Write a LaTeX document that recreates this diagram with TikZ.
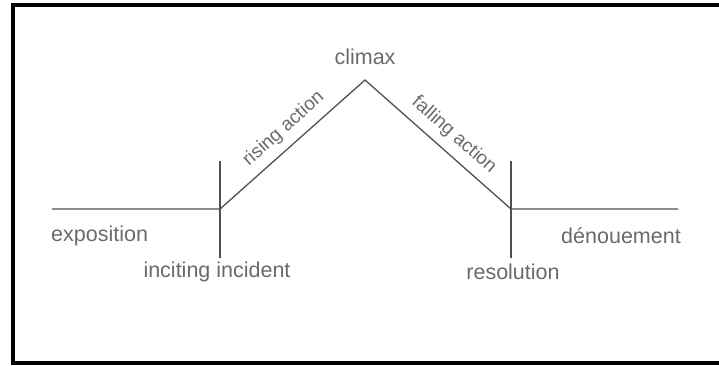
\documentclass[tikz,border=0pt]{standalone}
\usepackage{fontspec}
\setmainfont{Liberation Sans}
\usepackage{tikz}
\usetikzlibrary{positioning,calc}
\definecolor{plotline}{HTML}{505050}
\definecolor{plottext}{HTML}{6A6A6A}
\tikzset{
    arc/.style={draw=plotline, line width=1.3pt},
    lbl/.style={text=plottext, font=\fontsize{21.5}{24}\selectfont, inner sep=2pt},
    slopelbl/.style={text=plottext, font=\fontsize{19}{22}\selectfont, inner sep=2pt, sloped, above=6pt}
}
\begin{document}
\begin{tikzpicture}[x=1pt, y=-1pt]
    \clip (0,0) rectangle (719,365);
    % Frame
    \draw[line width=4pt] (13,5) rectangle (730,363);

    % Key points of the plot
    \coordinate (expo) at (52,209);
    \coordinate (incite) at (220,209);
    \coordinate (peak) at (365,80);
    \coordinate (resol) at (511,209);
    \coordinate (denou) at (678,209);

    % Plot line
    \draw[arc] (expo) -- (incite)
        -- node[slopelbl, pos=0.52] (rising) {rising action} (peak)
        -- node[slopelbl, pos=0.53] (falling) {falling action} (resol)
        -- (denou);

    % Ticks
    \draw[arc] ($(incite)+(0,-48)$) -- ($(incite)+(0,49)$);
    \draw[arc] ($(resol)+(0,-48)$) -- ($(resol)+(0,49)$);

    % Labels
    \node[lbl, anchor=west] (exposition) at (49,236) {exposition};
    \node[lbl] (incident) at (217,272) {inciting incident};
    \node[lbl] (climax) at (365,57) {climax};
    \node[lbl] (resolution) at (513,272) {resolution};
    \node[lbl] (denouement) at (621,236) {dénouement};
\end{tikzpicture}
\end{document}
